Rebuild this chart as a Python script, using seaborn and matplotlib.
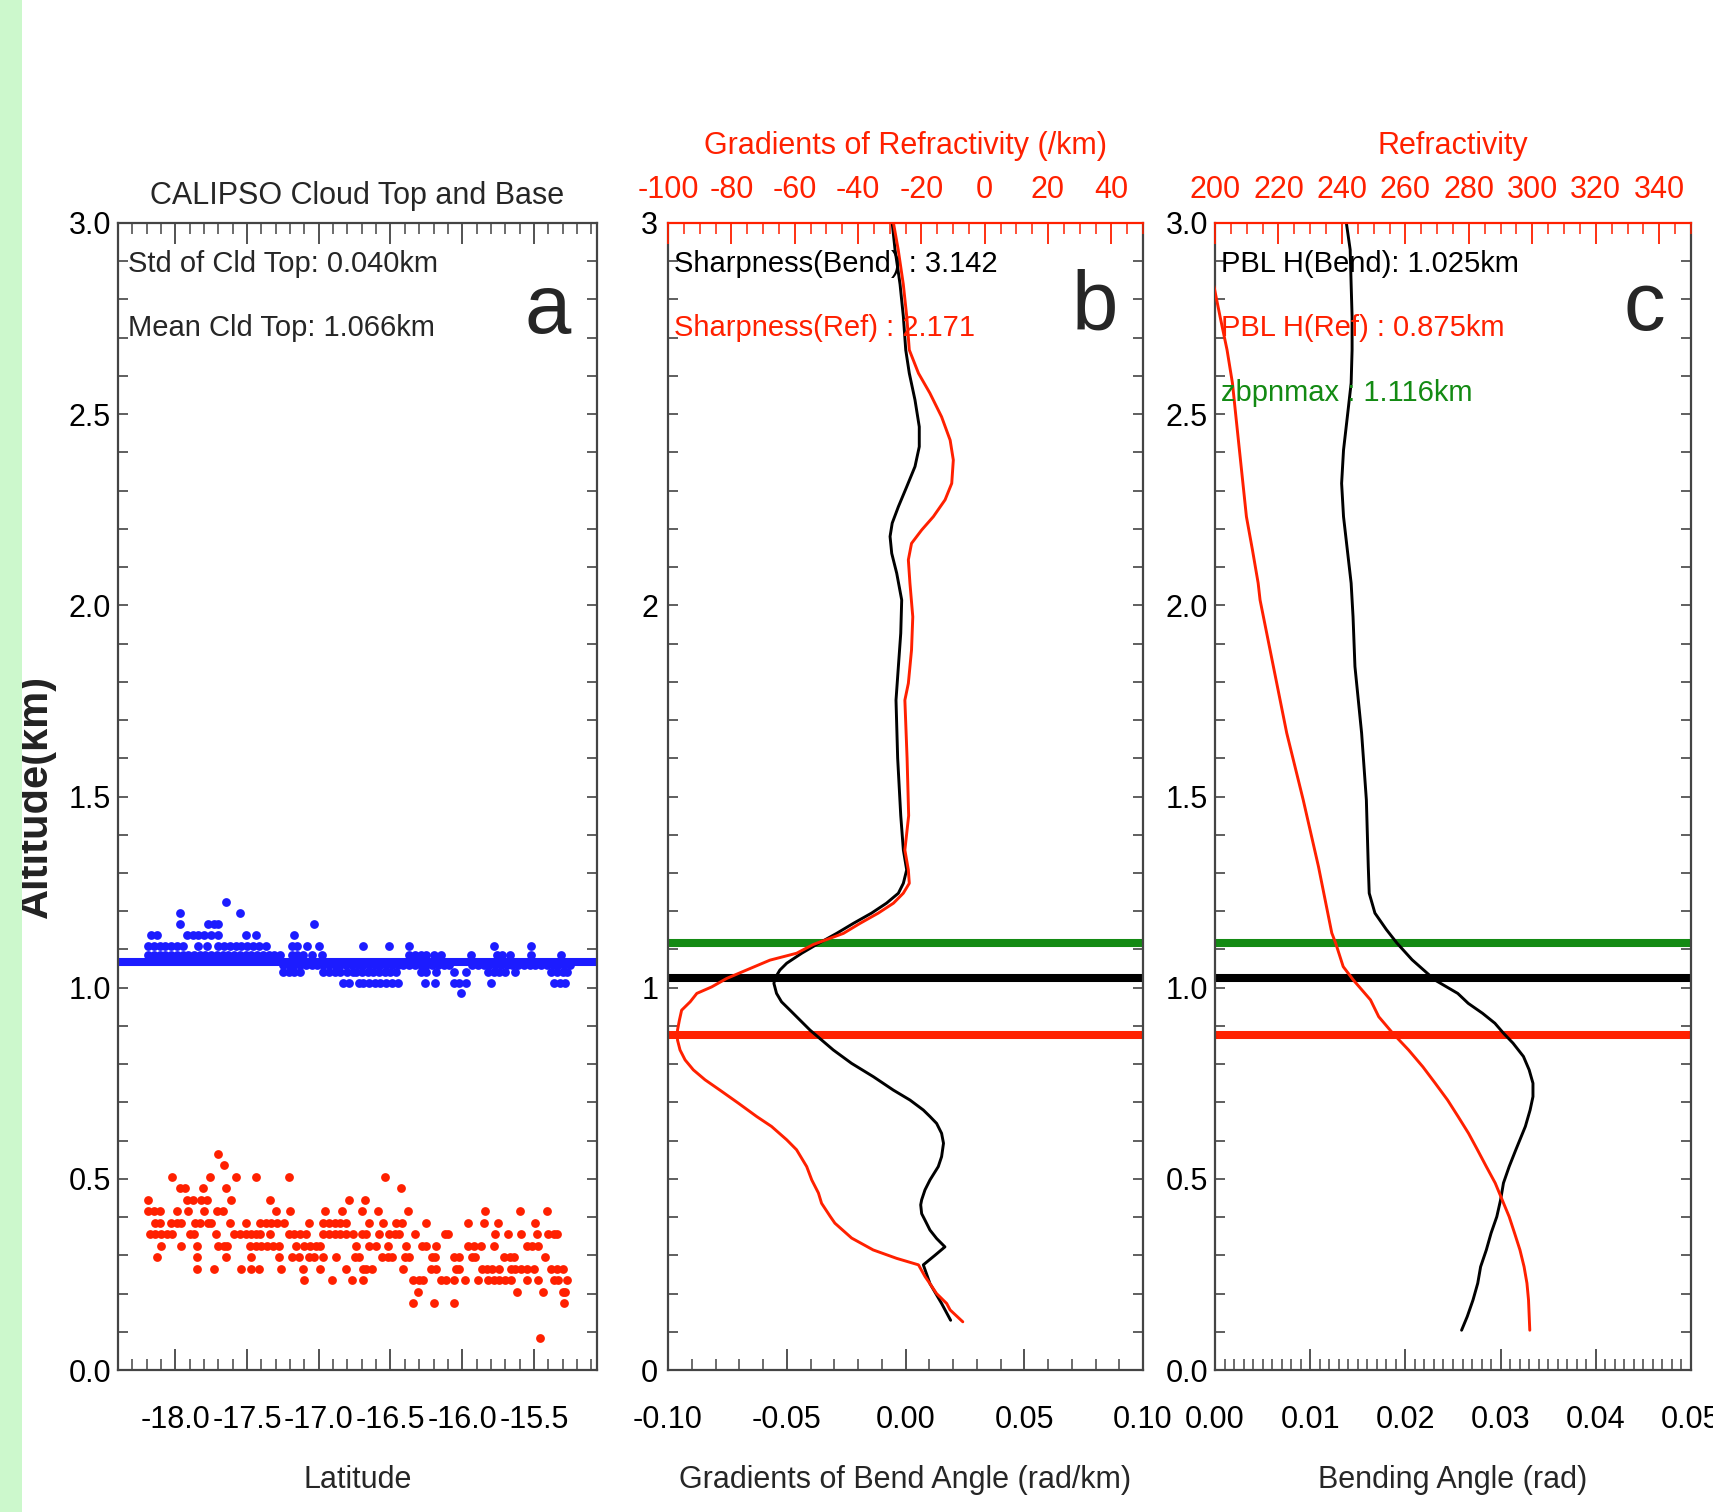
import numpy as np
import pandas as pd
import matplotlib
matplotlib.use("Agg")
import matplotlib.pyplot as plt
import seaborn as sns
from matplotlib.ticker import MultipleLocator, FixedLocator, FixedFormatter
from matplotlib.transforms import blended_transform_factory
from matplotlib.patches import Rectangle

# ---------------- data ----------------
# Panel a: CALIPSO cloud top (blue) rows: altitude level -> latitudes
cloud_top_levels = [1.225, 1.196, 1.166, 1.137, 1.108, 1.085, 1.058, 1.042, 1.013, 0.986]
cloud_top_rows = [
    [-17.65],
    [-17.97, -17.55],
    [-17.97, -17.77, -17.73, -17.70, -17.03],
    [-18.17, -18.13, -17.92, -17.88, -17.84, -17.80, -17.75, -17.70, -17.51, -17.44, -17.17],
    [-18.19, -18.15, -18.11, -18.07, -18.03, -17.99, -17.95, -17.84, -17.78, -17.70, -17.66, -17.62,
     -17.58, -17.54, -17.50, -17.46, -17.42, -17.37, -17.19, -17.15, -17.08, -17.00, -16.69, -16.51,
     -16.37, -15.78, -15.52],
    [-18.19, -18.15, -18.11, -18.07, -18.03, -17.99, -17.95, -17.91, -17.87, -17.83, -17.79, -17.75,
     -17.71, -17.67, -17.63, -17.59, -17.55, -17.51, -17.47, -17.43, -17.39, -17.35, -17.31, -17.27,
     -17.19, -17.15, -17.11, -17.05, -16.98, -16.37, -16.33, -16.29, -16.25, -16.20, -16.15, -15.94,
     -15.76, -15.72, -15.67, -15.52, -15.31],
    [-17.25, -17.21, -17.17, -17.13, -17.09, -17.05, -17.01, -16.97, -16.93, -16.89, -16.85, -16.81,
     -16.77, -16.73, -16.69, -16.65, -16.61, -16.57, -16.53, -16.49, -16.45, -16.41, -16.37, -16.33,
     -16.29, -16.25, -16.21, -16.17, -16.13, -16.09, -15.93, -15.89, -15.85, -15.81, -15.77, -15.73,
     -15.69, -15.65, -15.61, -15.57, -15.53, -15.49, -15.45, -15.41, -15.37, -15.33, -15.29, -15.25],
    [-17.25, -17.21, -17.17, -17.13, -16.97, -16.93, -16.89, -16.85, -16.80, -16.76, -16.74, -16.70,
     -16.66, -16.62, -16.58, -16.54, -16.50, -16.46, -16.29, -16.25, -16.18, -16.06, -15.97, -15.82,
     -15.78, -15.74, -15.70, -15.63, -15.38, -15.34, -15.30, -15.27],
    [-16.83, -16.79, -16.72, -16.69, -16.65, -16.61, -16.57, -16.53, -16.49, -16.45, -16.26, -16.19,
     -16.06, -16.02, -15.97, -15.80, -15.36, -15.32, -15.28],
    [-16.01],
]
# Panel a: CALIPSO cloud base (red) rows
cloud_base_levels = [0.565, 0.535, 0.505, 0.475, 0.445, 0.415, 0.385, 0.355, 0.325, 0.295,
                     0.265, 0.235, 0.205, 0.175, 0.085]
cloud_base_rows = [
    [-17.70],
    [-17.66],
    [-18.02, -17.76, -17.58, -17.44, -17.21, -16.54],
    [-17.97, -17.93, -17.81, -17.65, -16.43],
    [-18.19, -17.92, -17.88, -17.82, -17.78, -17.61, -17.34, -16.79, -16.68],
    [-18.19, -18.15, -18.11, -17.99, -17.91, -17.80, -17.71, -17.67, -17.30, -17.20, -16.96, -16.84,
     -16.70, -16.59, -16.38, -15.84, -15.60, -15.41],
    [-18.14, -18.11, -18.03, -17.99, -17.96, -17.86, -17.83, -17.77, -17.75, -17.62, -17.51, -17.41,
     -17.37, -17.33, -17.29, -17.24, -17.07, -16.97, -16.93, -16.89, -16.85, -16.81, -16.65, -16.55,
     -16.46, -16.42, -16.25, -15.96, -15.85, -15.75, -15.49],
    [-18.18, -18.14, -18.10, -18.06, -18.02, -17.90, -17.87, -17.72, -17.59, -17.55, -17.51, -17.47,
     -17.44, -17.41, -17.34, -17.21, -17.17, -17.13, -17.09, -16.97, -16.93, -16.89, -16.85, -16.81,
     -16.76, -16.70, -16.67, -16.58, -16.51, -16.47, -16.44, -16.33, -16.12, -16.10, -15.77, -15.68,
     -15.59, -15.48, -15.40, -15.36, -15.34],
    [-18.10, -17.96, -17.85, -17.70, -17.66, -17.64, -17.48, -17.44, -17.40, -17.36, -17.32, -17.28,
     -17.16, -17.10, -17.06, -17.02, -16.99, -16.74, -16.65, -16.60, -16.52, -16.39, -16.28, -16.25,
     -16.18, -15.96, -15.92, -15.87, -15.78, -15.55, -15.51, -15.47],
    [-18.13, -17.85, -17.65, -17.47, -17.28, -17.19, -17.14, -17.07, -17.03, -16.97, -16.88, -16.75,
     -16.72, -16.56, -16.52, -16.49, -16.40, -16.37, -16.21, -16.19, -16.06, -16.02, -15.93, -15.91,
     -15.71, -15.67, -15.64, -15.42],
    [-17.85, -17.73, -17.54, -17.47, -17.42, -17.26, -17.11, -16.99, -16.81, -16.69, -16.67, -16.63,
     -16.41, -16.22, -16.18, -16.04, -16.02, -15.86, -15.83, -15.79, -15.74, -15.66, -15.63, -15.59,
     -15.55, -15.50, -15.38, -15.34, -15.30],
    [-17.10, -16.91, -16.77, -16.69, -16.34, -16.30, -16.27, -16.15, -16.11, -16.06, -15.98, -15.89,
     -15.82, -15.78, -15.74, -15.70, -15.66, -15.55, -15.47, -15.36, -15.33, -15.27],
    [-16.31, -15.62, -15.44, -15.30, -15.28],
    [-16.34, -16.20, -16.06, -15.29],
    [-15.46],
]
mean_cld_top = 1.066
std_cld_top = 0.040

# Panel b: gradient of bending angle (rad/km)
bend_grad_alt = [3.00, 2.93, 2.84, 2.755, 2.668, 2.607, 2.537, 2.467, 2.415, 2.363, 2.31, 2.258,
                 2.215, 2.18, 2.136, 2.084, 2.014, 1.927, 1.84, 1.752, 1.60, 1.45, 1.36, 1.308, 1.273,
                 1.247, 1.221, 1.195, 1.168, 1.142, 1.113, 1.090, 1.064, 1.046, 1.024, 1.011, 0.985,
                 0.963, 0.941, 0.915, 0.889, 0.837, 0.802, 0.767, 0.732, 0.706, 0.680, 0.663, 0.645,
                 0.619, 0.593, 0.558, 0.532, 0.497, 0.471, 0.445, 0.432, 0.409, 0.392, 0.366, 0.344,
                 0.322, 0.300, 0.275, 0.226, 0.174, 0.13]
bend_grad = [-0.0056, -0.0044, -0.0023, -0.0009, 0.0001, 0.0016, 0.0040, 0.0058, 0.0058, 0.0040,
             0.0005, -0.0030, -0.0056, -0.0065, -0.0058, -0.0037, -0.0016, -0.0020, -0.0030, -0.0040,
             -0.0033, -0.0020, -0.0009, 0.0005, -0.0009, -0.0030, -0.0080, -0.0143, -0.0220, -0.0290,
             -0.0374, -0.0437, -0.0500, -0.0529, -0.0550, -0.0554, -0.0543, -0.0522, -0.0486, -0.0444,
             -0.0402, -0.0304, -0.0227, -0.0135, -0.0051, 0.0019, 0.0075, 0.0103, 0.0131, 0.0152,
             0.0160, 0.0152, 0.0138, 0.0103, 0.0082, 0.0068, 0.0064, 0.0068, 0.0082, 0.0103, 0.0131,
             0.0166, 0.0124, 0.0075, 0.0103, 0.0152, 0.0190]
# Panel b: gradient of refractivity (/km)
ref_grad_alt = [3.00, 2.93, 2.84, 2.755, 2.668, 2.607, 2.555, 2.493, 2.432, 2.380, 2.319, 2.276,
                2.232, 2.197, 2.162, 2.119, 2.058, 1.970, 1.883, 1.796, 1.752, 1.60, 1.45, 1.36, 1.308,
                1.273, 1.247, 1.221, 1.195, 1.168, 1.142, 1.113, 1.090, 1.072, 1.050, 1.024, 1.002,
                0.985, 0.963, 0.941, 0.915, 0.889, 0.863, 0.837, 0.811, 0.785, 0.759, 0.732, 0.698,
                0.663, 0.637, 0.602, 0.576, 0.532, 0.497, 0.463, 0.436, 0.402, 0.384, 0.345, 0.314,
                0.292, 0.275, 0.244, 0.226, 0.200, 0.174, 0.157, 0.126]
ref_grad = [-28.8, -27.3, -25.7, -24.6, -23.8, -20.9, -17.3, -13.6, -10.9, -9.9, -10.4, -12.5, -16.2,
            -19.9, -23.1, -24.1, -23.6, -22.7, -23.1, -24.1, -25.2, -24.5, -24.0, -25.2, -24.1, -23.8,
            -25.7, -28.8, -33.6, -39.4, -44.6, -54.1, -59.4, -67.8, -74.1, -81.5, -86.2, -90.9, -93.0,
            -95.7, -96.4, -97.0, -97.0, -96.2, -94.6, -92.0, -88.3, -83.6, -77.8, -72.0, -67.3, -62.5,
            -59.4, -56.2, -54.6, -52.5, -51.5, -48.8, -47.3, -42.0, -35.2, -27.8, -20.9, -18.8,
            -17.3, -15.2, -12.0, -10.9, -6.9]
sharp_bend = 3.142
sharp_ref = 2.171

# Panel c: bending angle (rad)
bend_alt = [3.00, 2.93, 2.84, 2.755, 2.668, 2.581, 2.493, 2.406, 2.319, 2.232, 2.145, 2.058, 1.97,
            1.84, 1.666, 1.491, 1.317, 1.247, 1.195, 1.152, 1.117, 1.073, 1.020, 0.985, 0.959, 0.933,
            0.907, 0.881, 0.855, 0.820, 0.785, 0.750, 0.715, 0.680, 0.637, 0.576, 0.532, 0.489,
            0.445, 0.401, 0.358, 0.314, 0.270, 0.227, 0.183, 0.140, 0.104]
bend_angle = [0.0138, 0.0142, 0.0143, 0.0144, 0.0144, 0.0143, 0.0139, 0.0135, 0.0133, 0.0135, 0.0139,
              0.0143, 0.0145, 0.0147, 0.0154, 0.0159, 0.0161, 0.0162, 0.0168, 0.0180, 0.0191, 0.0207,
              0.0231, 0.0255, 0.0266, 0.0281, 0.0294, 0.0303, 0.0313, 0.0324, 0.0330, 0.0334, 0.0334,
              0.0331, 0.0326, 0.0316, 0.0309, 0.0303, 0.0300, 0.0296, 0.0290, 0.0285, 0.0279, 0.0276,
              0.0271, 0.0265, 0.0259]
# Panel c: refractivity
refr_alt = [3.00, 2.825, 2.755, 2.668, 2.581, 2.493, 2.406, 2.319, 2.232, 2.145, 2.058, 2.014, 1.84,
            1.666, 1.491, 1.317, 1.230, 1.143, 1.117, 1.055, 1.020, 0.968, 0.924, 0.881, 0.837,
            0.793, 0.750, 0.706, 0.663, 0.619, 0.576, 0.532, 0.489, 0.445, 0.401, 0.358, 0.314,
            0.270, 0.227, 0.183, 0.104]
refractivity = [195.0, 199.9, 201.6, 203.8, 205.5, 206.6, 207.7, 208.8, 209.9, 211.8, 213.6, 214.2,
                218.4, 222.6, 227.8, 232.6, 234.7, 236.8, 238.0, 240.4, 243.6, 249.0, 251.6, 256.0,
                261.0, 265.5, 269.4, 273.3, 276.6, 279.9, 282.7, 285.5, 288.3, 290.5, 292.7, 294.4,
                296.1, 297.4, 298.3, 298.8, 299.2]

pbl_bend = 1.025
pbl_ref = 0.875
zbpnmax = 1.116

lat_ticks = [-18.0, -17.5, -17.0, -16.5, -16.0, -15.5]
lat_labels = ["-18.0", "-17.5", "-17.0", "-16.5", "-16.0", "-15.5"]
alt_ticks = [0.0, 0.5, 1.0, 1.5, 2.0, 2.5, 3.0]
alt_labels = ["0.0", "0.5", "1.0", "1.5", "2.0", "2.5", "3.0"]
bgrad_ticks = [-0.10, -0.05, 0.0, 0.05, 0.10]
bgrad_labels = ["-0.10", "-0.05", "0.00", "0.05", "0.10"]
rgrad_ticks = [-100, -80, -60, -40, -20, 0, 20, 40]
rgrad_labels = ["-100", "-80", "-60", "-40", "-20", "0", "20", "40"]
bang_ticks = [0.0, 0.01, 0.02, 0.03, 0.04, 0.05]
bang_labels = ["0.00", "0.01", "0.02", "0.03", "0.04", "0.05"]
refr_ticks = [200, 220, 240, 260, 280, 300, 320, 340]
refr_labels = ["200", "220", "240", "260", "280", "300", "320", "340"]

# ---------------- style ----------------
sns.set_style("ticks")
plt.rcParams['font.family'] = ['Liberation Sans', 'DejaVu Sans']
plt.rcParams['axes.linewidth'] = 1.6
plt.rcParams['axes.unicode_minus'] = False

RED = '#ff2000'
BLUE = '#1c1cff'
GREEN = '#138a13'
AXC = '#444444'
TFS = 22      # tick labels
LFS = 22      # axis labels
IFS = 21      # inner annotations

W, H = 1713, 1512
fig = plt.figure(figsize=(W / 100, H / 100), dpi=100)
fig.patches.append(Rectangle((0, 0), 22 / W, 1, transform=fig.transFigure,
                             facecolor='#ccf8cc', edgecolor='none', zorder=0))

bot = (H - 1370) / H
hgt = 1147 / H
axa = fig.add_axes([118 / W, bot, 479 / W, hgt])
axb = fig.add_axes([668 / W, bot, 475 / W, hgt])
axc = fig.add_axes([1215 / W, bot, 476 / W, hgt])


def base_style(ax):
    for s in ax.spines.values():
        s.set_color(AXC)
    ax.tick_params(axis='both', which='both', direction='in', colors=AXC, labelcolor='black',
                   labelsize=TFS)
    ax.tick_params(axis='x', which='major', length=15, width=1.3, pad=25)
    ax.tick_params(axis='x', which='minor', length=8, width=1.1)
    ax.tick_params(axis='y', which='both', length=7, width=1.2, pad=5)
    ax.set_ylim(0, 3)
    ax.yaxis.set_minor_locator(MultipleLocator(0.1))


def top_style(t, ticks, labels, lim, label):
    t.set_xlim(*lim)
    t.set_ylim(0, 3)
    t.xaxis.set_major_locator(FixedLocator(ticks))
    t.xaxis.set_major_formatter(FixedFormatter(labels))
    t.xaxis.set_minor_locator(MultipleLocator(5))
    t.spines['top'].set_color(RED)
    for s in ['bottom', 'left', 'right']:
        t.spines[s].set_visible(False)
    t.tick_params(axis='x', which='both', direction='in', colors=RED, labelcolor=RED,
                  labelsize=TFS, top=True, bottom=False)
    t.tick_params(axis='x', which='major', length=15, width=1.3, pad=13)
    t.tick_params(axis='x', which='minor', length=8, width=1.1)
    t.tick_params(axis='y', left=False, right=False, labelleft=False)
    t.set_xlabel(label, fontsize=LFS, color=RED, labelpad=15)
    t.set_ylabel('')


# ---------------- panel a ----------------
top_df = pd.DataFrame({
    'lat': [v for row in cloud_top_rows for v in row],
    'alt': [lev for lev, row in zip(cloud_top_levels, cloud_top_rows) for _ in row]})
base_df = pd.DataFrame({
    'lat': [v for row in cloud_base_rows for v in row],
    'alt': [lev for lev, row in zip(cloud_base_levels, cloud_base_rows) for _ in row]})

base_style(axa)
axa.axhline(mean_cld_top, color=BLUE, lw=5.8, zorder=2)
sns.scatterplot(data=top_df, x='lat', y='alt', ax=axa, color=BLUE, s=40, linewidth=0, zorder=3)
sns.scatterplot(data=base_df, x='lat', y='alt', ax=axa, color=RED, s=40, linewidth=0, zorder=3)
axa.set_xlim(-18.40, -15.06)
axa.xaxis.set_major_locator(FixedLocator(lat_ticks))
axa.xaxis.set_major_formatter(FixedFormatter(lat_labels))
axa.xaxis.set_minor_locator(MultipleLocator(0.1))
axa.yaxis.set_major_locator(FixedLocator(alt_ticks))
axa.yaxis.set_major_formatter(FixedFormatter(alt_labels))
axa.tick_params(which='both', top=True, right=True)
axa.set_xlabel('Latitude', fontsize=LFS, labelpad=22)
axa.set_ylabel('Altitude(km)', fontsize=30, fontweight='bold', labelpad=9, color='#222222')
axa.set_title('CALIPSO Cloud Top and Base', fontsize=LFS, pad=14)
ta = blended_transform_factory(axa.transAxes, axa.transData)
axa.text(0.021, 2.893, 'Std of Cld Top: %.3fkm' % std_cld_top, transform=ta, fontsize=IFS,
         va='center', ha='left')
axa.text(0.021, 2.726, 'Mean Cld Top: %.3fkm' % mean_cld_top, transform=ta, fontsize=IFS,
         va='center', ha='left')
axa.text(0.898, 2.77, 'a', transform=ta, fontsize=60, va='center', ha='center')

# ---------------- panel b ----------------
base_style(axb)
for lev, col in [(zbpnmax, GREEN), (pbl_bend, 'black'), (pbl_ref, RED)]:
    axb.axhline(lev, color=col, lw=5.8, zorder=1)
sns.lineplot(x=bend_grad, y=bend_grad_alt, ax=axb, sort=False, estimator=None, color='black', lw=2.1)
axb.set_xlim(-0.10, 0.10)
axb.xaxis.set_major_locator(FixedLocator(bgrad_ticks))
axb.xaxis.set_major_formatter(FixedFormatter(bgrad_labels))
axb.xaxis.set_minor_locator(MultipleLocator(0.01))
axb.yaxis.set_major_locator(FixedLocator([0, 1, 2, 3]))
axb.yaxis.set_major_formatter(FixedFormatter(['0', '1', '2', '3']))
axb.tick_params(which='both', top=False, right=True)
axb.tick_params(axis='y', pad=7)
axb.set_xlabel('Gradients of Bend Angle (rad/km)', fontsize=LFS, labelpad=22)
axb.spines['top'].set_visible(False)

tb = axb.twiny()
sns.lineplot(x=ref_grad, y=ref_grad_alt, ax=tb, sort=False, estimator=None, color=RED, lw=2.1)
top_style(tb, rgrad_ticks, rgrad_labels, (-100, 50), 'Gradients of Refractivity (/km)')
tbt = blended_transform_factory(axb.transAxes, axb.transData)
tb.text(0.013, 2.893, 'Sharpness(Bend) : %.3f' % sharp_bend, transform=tbt, fontsize=IFS,
        va='center', ha='left', color='black')
tb.text(0.013, 2.726, 'Sharpness(Ref) : %.3f' % sharp_ref, transform=tbt, fontsize=IFS,
        va='center', ha='left', color=RED)
tb.text(0.899, 2.778, 'b', transform=tbt, fontsize=60, va='center', ha='center')

# ---------------- panel c ----------------
base_style(axc)
for lev, col in [(zbpnmax, GREEN), (pbl_bend, 'black'), (pbl_ref, RED)]:
    axc.axhline(lev, color=col, lw=5.8, zorder=1)
sns.lineplot(x=bend_angle, y=bend_alt, ax=axc, sort=False, estimator=None, color='black', lw=2.1)
axc.set_xlim(0.0, 0.05)
axc.xaxis.set_major_locator(FixedLocator(bang_ticks))
axc.xaxis.set_major_formatter(FixedFormatter(bang_labels))
axc.xaxis.set_minor_locator(MultipleLocator(0.001))
axc.yaxis.set_major_locator(FixedLocator(alt_ticks))
axc.yaxis.set_major_formatter(FixedFormatter(alt_labels))
axc.tick_params(which='both', top=False, right=True)
axc.set_xlabel('Bending Angle (rad)', fontsize=LFS, labelpad=22)
axc.spines['top'].set_visible(False)

tc = axc.twiny()
sns.lineplot(x=refractivity, y=refr_alt, ax=tc, sort=False, estimator=None, color=RED, lw=2.1)
top_style(tc, refr_ticks, refr_labels, (200, 350), 'Refractivity')
tct = blended_transform_factory(axc.transAxes, axc.transData)
tc.text(0.013, 2.893, 'PBL H(Bend): %.3fkm' % pbl_bend, transform=tct, fontsize=IFS,
        va='center', ha='left', color='black')
tc.text(0.013, 2.726, 'PBL H(Ref) : %.3fkm' % pbl_ref, transform=tct, fontsize=IFS,
        va='center', ha='left', color=RED)
tc.text(0.013, 2.555, 'zbpnmax : %.3fkm' % zbpnmax, transform=tct, fontsize=IFS,
        va='center', ha='left', color=GREEN)
tc.text(0.901, 2.778, 'c', transform=tct, fontsize=60, va='center', ha='center')

fig.savefig('out.png', dpi=100, facecolor='white')
